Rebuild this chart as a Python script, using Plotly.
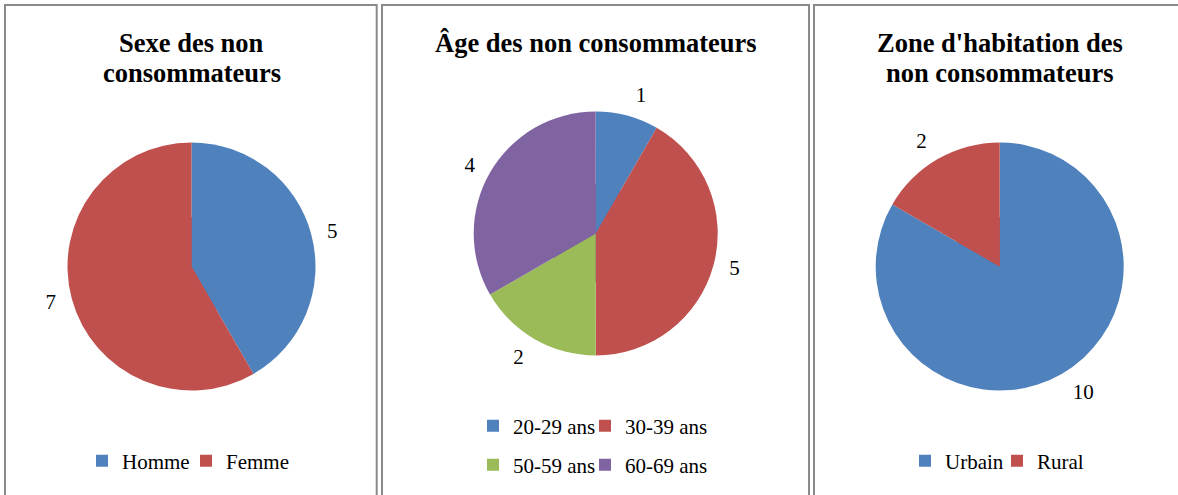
import plotly.graph_objects as go

W, H = 1178, 495

# ---- data ----
sexe_labels = ["Homme", "Femme"]
sexe_values = [5, 7]
age_labels = ["20-29 ans", "30-39 ans", "50-59 ans", "60-69 ans"]
age_values = [1, 5, 2, 4]
zone_labels = ["Urbain", "Rural"]
zone_values = [10, 2]

title_sexe = ["Sexe des non", "consommateurs"]
title_age = ["Âge des non consommateurs"]
title_zone = ["Zone d'habitation des", "non consommateurs"]

colors_sexe = ["#4F81BD", "#C0504D"]
colors_age = ["#4F81BD", "#C0504D", "#9BBB59", "#8064A2"]
colors_zone = ["#4F81BD", "#C0504D"]

FONT = "Liberation Serif, Times New Roman, serif"


def fx(x):
    return x / W


def fy(y):
    return 1 - y / H


def dom(cx, cy, r):
    return dict(x=[fx(cx - r), fx(cx + r)], y=[fy(cy + r), fy(cy - r)])


def pie(labels, values, colors, domain, **kw):
    base = dict(
        labels=labels, values=values, sort=False, direction="clockwise",
        rotation=0, domain=domain,
        marker=dict(colors=colors, line=dict(width=0)),
        textinfo="none", textposition="outside",
        outsidetextfont=dict(family=FONT, size=21, color="black"),
        hoverinfo="label+value", showlegend=False,
    )
    base.update(kw)
    return go.Pie(**base)


fig = go.Figure()
legends = {}

# (labels, values, colors, center, radius, legend text positions)
panels = [
    (sexe_labels, sexe_values, colors_sexe, (191.5, 266.5), 124,
     [(120, 461), (224, 461)]),
    (age_labels, age_values, colors_age, (595.7, 233.5), 122,
     [(511, 426), (623, 426), (511, 465), (623, 465)]),
    (zone_labels, zone_values, colors_zone, (999.7, 266.5), 124,
     [(943, 461), (1035, 461)]),
]

n = 0
for labels, values, colors, (cx, cy), r, legpos in panels:
    # one legend per entry (legend-only pies, hidden below the main pie)
    for lab, val, col, (tx, ty) in zip(labels, values, colors, legpos):
        n += 1
        lid = "legend" if n == 1 else f"legend{n}"
        fig.add_trace(pie([lab], [val], [col], dom(cx, cy, r * 0.4),
                          showlegend=True, legend=lid, hoverinfo="skip"))
        legends[lid] = dict(orientation="h", x=fx(tx - 38), y=fy(ty), xanchor="left",
                            yanchor="middle", bgcolor="rgba(0,0,0,0)", borderwidth=0,
                            font=dict(family=FONT, size=21, color="black"))
    # transparent, slightly larger pie carrying the outside value labels
    fig.add_trace(pie(labels, values, ["rgba(0,0,0,0)"] * len(labels), dom(cx, cy, r + 10),
                      textinfo="value", hoverinfo="skip"))
    # visible pie
    fig.add_trace(pie(labels, values, colors, dom(cx, cy, r)))

# panel borders
shapes = []
for x0, x1 in [(5, 376.7), (382, 809), (814, 1195)]:
    shapes.append(dict(type="rect", xref="paper", yref="paper",
                       x0=fx(x0), x1=fx(x1), y0=fy(520), y1=fy(5),
                       line=dict(color="#8A8A8A", width=2), fillcolor="rgba(0,0,0,0)"))

# titles
annotations = []
for lines, cx in [(title_sexe, 191.5), (title_age, 595.7), (title_zone, 999.7)]:
    for i, line in enumerate(lines):
        annotations.append(dict(text=line, xref="paper", yref="paper", x=fx(cx), y=fy(43 + 30 * i),
                                xanchor="center", yanchor="middle", showarrow=False,
                                font=dict(family=FONT, size=26.5, color="black", weight="bold")))

fig.update_layout(
    width=W, height=H, margin=dict(l=0, r=0, t=0, b=0),
    paper_bgcolor="white", plot_bgcolor="white",
    shapes=shapes, annotations=annotations,
    **legends,
)

fig.write_html("out.html", config={"displayModeBar": False},
               post_script="document.body.style.margin='0';")
